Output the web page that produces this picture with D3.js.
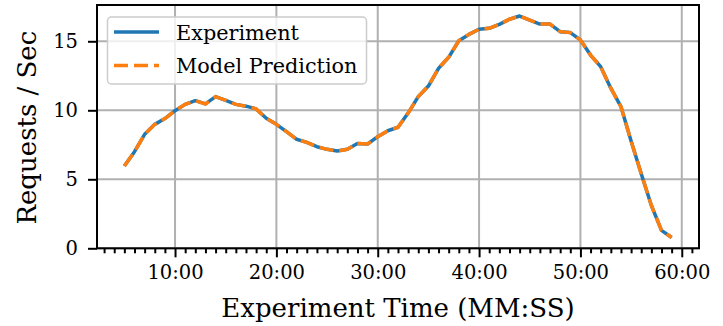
<!DOCTYPE html>
<html>
<head>
<meta charset="utf-8">
<script src="https://cdn.jsdelivr.net/npm/d3@7"></script>
<style>
  body { margin: 0; background: #fff; }
  svg { display: block; font-family: "DejaVu Serif", serif; }
</style>
</head>
<body>
<svg width="723" height="326"></svg>
<script>
// minutes into the experiment, one sample per minute
const minutes = d3.range(5, 60);

const experiment = [
    5.96, 7.0, 8.26, 8.98, 9.4, 9.97, 10.43, 10.7, 10.46, 10.99,
    10.72, 10.43, 10.3, 10.1, 9.42, 8.98, 8.45, 7.9, 7.68, 7.36,
    7.17, 7.05, 7.17, 7.6, 7.56, 8.09, 8.52, 8.77, 9.8, 10.99,
    11.76, 13.04, 13.84, 15.04, 15.5, 15.87, 15.94, 16.23, 16.6, 16.83,
    16.54, 16.25, 16.25, 15.7, 15.63, 15.1, 14.0, 13.16, 11.6, 10.26,
    7.77, 5.4, 3.1, 1.3, 0.78
];

const prediction = [
    5.96, 7.0, 8.26, 8.98, 9.4, 9.97, 10.43, 10.7, 10.46, 10.99,
    10.72, 10.43, 10.3, 10.1, 9.42, 8.98, 8.45, 7.9, 7.68, 7.36,
    7.17, 7.05, 7.17, 7.6, 7.56, 8.09, 8.52, 8.77, 9.8, 10.99,
    11.76, 13.04, 13.84, 15.04, 15.5, 15.87, 15.94, 16.23, 16.6, 16.83,
    16.54, 16.25, 16.25, 15.7, 15.63, 15.1, 14.0, 13.16, 11.6, 10.26,
    7.77, 5.4, 3.1, 1.3, 0.78
];

const xTicks = [10, 20, 30, 40, 50, 60];
const yTicks = [0, 5, 10, 15];
const seriesNames = ["Experiment", "Model Prediction"];

const plotLeft = 97, plotRight = 699, plotTop = 5, plotBottom = 248.3;

const svg = d3.select("svg");

const x = d3.scaleLinear().domain([2.3, 61.7]).range([plotLeft, plotRight]);
const y = d3.scaleLinear().domain([0, 17.63]).range([plotBottom, plotTop]);

// grid
svg.append("g")
    .selectAll("line")
    .data(xTicks)
    .enter()
    .append("line")
    .attr("x1", (d) => x(d))
    .attr("x2", (d) => x(d))
    .attr("y1", plotTop)
    .attr("y2", plotBottom)
    .attr("stroke", "#b0b0b0")
    .attr("stroke-width", 2);

svg.append("g")
    .selectAll("line")
    .data(yTicks)
    .enter()
    .append("line")
    .attr("x1", plotLeft)
    .attr("x2", plotRight)
    .attr("y1", (d) => y(d))
    .attr("y2", (d) => y(d))
    .attr("stroke", "#b0b0b0")
    .attr("stroke-width", 2);

// lines
const line = d3.line()
    .x((d, i) => x(minutes[i]))
    .y((d) => y(d));

svg.append("path")
    .datum(experiment)
    .attr("fill", "none")
    .attr("stroke", "#1f77b4")
    .attr("stroke-width", 3.5)
    .attr("stroke-linejoin", "round")
    .attr("d", line);

svg.append("path")
    .datum(prediction)
    .attr("fill", "none")
    .attr("stroke", "#ff7f0e")
    .attr("stroke-width", 3.5)
    .attr("stroke-dasharray", "14,6")
    .attr("d", line);

// axes
const minor = d3.range(3, 62).filter((m) => m % 10 !== 0);

const xMinor = svg.append("g")
    .attr("transform", `translate(0,${plotBottom})`)
    .call(d3.axisBottom(x).tickValues(minor).tickSize(5).tickFormat(""));

const xAxis = svg.append("g")
    .attr("transform", `translate(0,${plotBottom})`)
    .call(d3.axisBottom(x)
        .tickValues(xTicks)
        .tickSize(9)
        .tickPadding(8)
        .tickFormat((d) => `${d}:00`));

const yAxis = svg.append("g")
    .attr("transform", `translate(${plotLeft},0)`)
    .call(d3.axisLeft(y).tickValues(yTicks).tickSize(9).tickPadding(10));

[xMinor, xAxis, yAxis].forEach((g) => {
    g.select(".domain").remove();
    g.selectAll(".tick line").attr("stroke", "#000").attr("stroke-width", 2);
    g.selectAll("text")
        .attr("fill", "#000")
        .style("font-family", "DejaVu Serif")
        .style("font-size", "19.5px");
});

// spines
svg.append("rect")
    .attr("x", plotLeft)
    .attr("y", plotTop)
    .attr("width", plotRight - plotLeft)
    .attr("height", plotBottom - plotTop)
    .attr("fill", "none")
    .attr("stroke", "#000")
    .attr("stroke-width", 2);

// axis labels
svg.append("text")
    .attr("x", (plotLeft + plotRight) / 2)
    .attr("y", 317)
    .attr("text-anchor", "middle")
    .style("font-size", "26px")
    .text("Experiment Time (MM:SS)");

svg.append("text")
    .attr("transform", `translate(36,${(plotTop + plotBottom) / 2 + 1}) rotate(-90)`)
    .attr("text-anchor", "middle")
    .style("font-size", "26px")
    .text("Requests / Sec");

// legend
const legend = svg.append("g");

legend.append("rect")
    .attr("x", 107.5)
    .attr("y", 17)
    .attr("width", 259)
    .attr("height", 67)
    .attr("rx", 4)
    .attr("fill", "#fff")
    .attr("fill-opacity", 0.8)
    .attr("stroke", "#cccccc")
    .attr("stroke-width", 1.5);

const items = legend.selectAll(".item")
    .data(seriesNames)
    .enter()
    .append("g")
    .attr("class", "item")
    .attr("transform", (d, i) => `translate(0,${32 + i * 33.5})`);

items.append("line")
    .attr("x1", 114)
    .attr("x2", 159)
    .attr("stroke", (d, i) => (i === 0 ? "#1f77b4" : "#ff7f0e"))
    .attr("stroke-width", 3.5)
    .attr("stroke-dasharray", (d, i) => (i === 0 ? null : "14,6"));

items.append("text")
    .attr("x", 176)
    .attr("y", 7.5)
    .style("font-size", "20.8px")
    .text((d) => d);
</script>
</body>
</html>
